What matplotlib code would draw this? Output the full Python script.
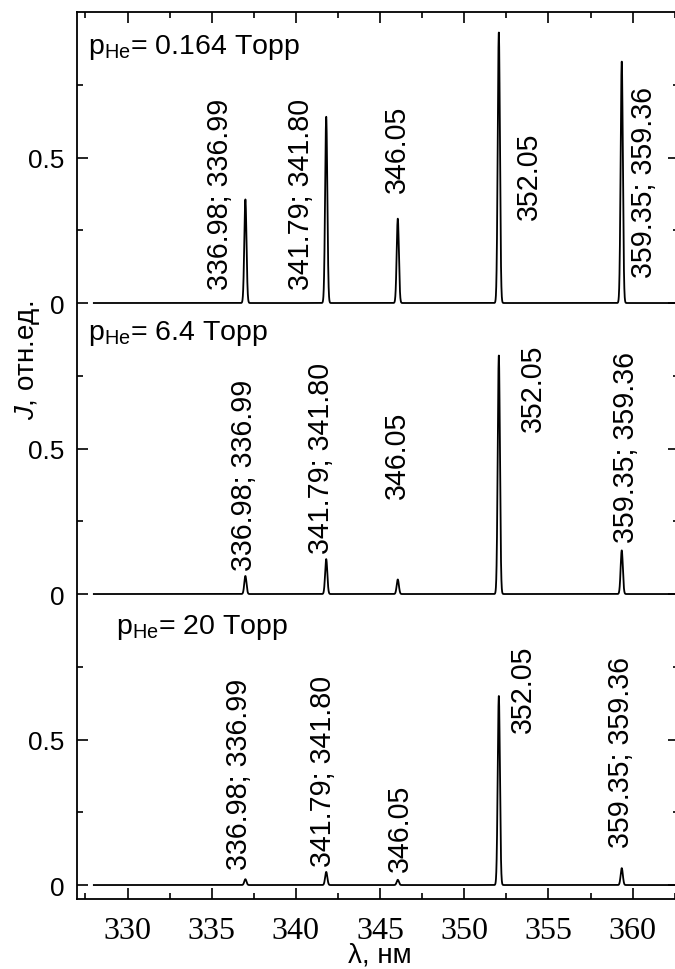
import numpy as np
import matplotlib
matplotlib.use("Agg")
import matplotlib.pyplot as plt
from matplotlib.ticker import FixedLocator, FixedFormatter

plt.rcParams['font.family'] = ['Liberation Sans', 'DejaVu Sans']
plt.rcParams['mathtext.fontset'] = 'custom'
plt.rcParams['mathtext.rm'] = 'Liberation Sans'
plt.rcParams['mathtext.it'] = 'Liberation Sans:italic'

# ---- data ----
line_centers = [337.0, 341.8, 346.05, 352.05, 359.35]
line_labels = ["336.98; 336.99", "341.79; 341.80", "346.05", "352.05", "359.35; 359.36"]
heights_0164 = [0.356, 0.64, 0.29, 0.93, 0.83]
heights_64 = [0.062, 0.12, 0.05, 0.82, 0.15]
heights_20 = [0.02, 0.045, 0.018, 0.65, 0.058]
panel_titles = [r"p$_{\mathrm{He}}$= 0.164 Торр", r"p$_{\mathrm{He}}$= 6.4 Торр", r"p$_{\mathrm{He}}$= 20 Торр"]
x_ticks = [330, 335, 340, 345, 350, 355, 360]
y_tick_labels = ["0", "0.5"]

# annotation placement (x, y above panel baseline)
lab_x = [[335.47, 340.28, 345.98, 353.83, 360.66],
         [336.9, 341.5, 346.0, 354.1, 359.6],
         [336.65, 341.6, 346.2, 353.5, 359.3]]
lab_y = [[0.048, 0.048, 0.38, 0.29, 0.089],
         [0.082, 0.14, 0.33, 0.56, 0.178],
         [0.055, 0.065, 0.048, 0.527, 0.13]]
title_pos = [(327.68, 0.86), (327.68, 0.877), (329.29, 0.866)]
offsets = [2, 1, 0]

fig = plt.figure(figsize=(6.75, 9.70), dpi=100)
ax = fig.add_axes([77/675, 70/970, 602/675, 887/970])

lam = np.arange(328.0, 362.8, 0.004)
sigma = 0.065
for heights, off, lx, ly, title, tp in zip([heights_0164, heights_64, heights_20], offsets,
                                           lab_x, lab_y, panel_titles, title_pos):
    y = np.zeros_like(lam)
    for c, h in zip(line_centers, heights):
        y += h * np.exp(-0.5 * ((lam - c) / sigma) ** 2)
    ax.plot(lam, y + off, color='black', lw=1.3)
    for xx, yy, t in zip(lx, ly, line_labels):
        ax.text(xx, yy + off, t, rotation=90, ha='center', va='bottom', fontsize=20.6)
    ax.text(tp[0], tp[1] + off, title, ha='left', va='baseline', fontsize=20.5)

ax.set_xlim(327.0, 362.75)
ax.set_ylim(-0.048, 3.0)

ax.xaxis.set_major_locator(FixedLocator(x_ticks))
ax.xaxis.set_minor_locator(FixedLocator(np.arange(327.5, 363, 5)))
ymaj = [0, 0.5, 1, 1.5, 2, 2.5]
ax.yaxis.set_major_locator(FixedLocator(ymaj))
ax.yaxis.set_major_formatter(FixedFormatter(y_tick_labels * 3))
ax.yaxis.set_minor_locator(FixedLocator([0.25, 0.75, 1.25, 1.75, 2.25, 2.75]))

ax.tick_params(which='both', direction='in', top=True, right=True, width=1.2)
ax.tick_params(which='major', length=8)
ax.tick_params(which='minor', length=4)
ax.tick_params(axis='y', which='major', labelsize=18.8, pad=9)
ax.tick_params(axis='x', which='major', labelsize=23, pad=12)
for lbl in ax.get_xticklabels():
    lbl.set_fontfamily('Liberation Serif')
for s in ax.spines.values():
    s.set_linewidth(1.3)

fig.text(380/675, 1 - 963/970, "λ, нм", ha='center', va='baseline', fontsize=20)
fig.text(27/675, 1 - 360/970, r"$J$, отн.ед.", ha='center', va='center', rotation=90, fontsize=20)

fig.savefig("out.png", dpi=100)
